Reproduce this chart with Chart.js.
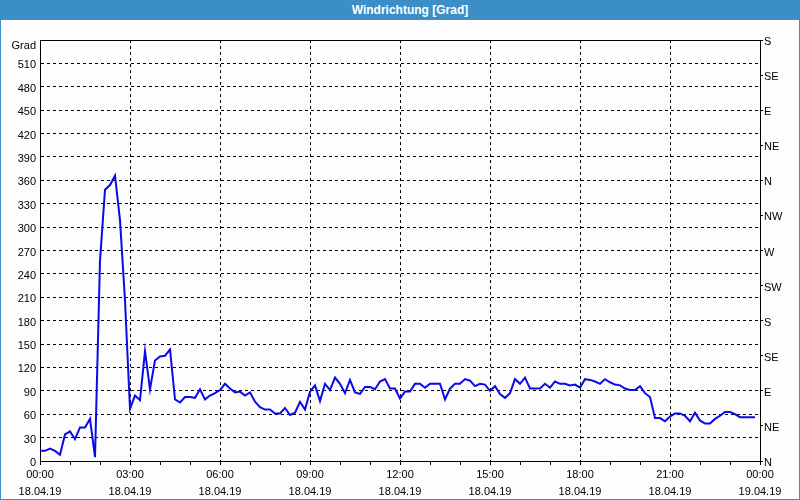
<!DOCTYPE html>
<html>
<head>
<meta charset="utf-8">
<script src="https://cdn.jsdelivr.net/npm/chart.js@4.4.1/dist/chart.umd.min.js"></script>
<style>
  html, body { margin: 0; padding: 0; background: #ffffff; }
  #wrap { position: relative; width: 800px; height: 500px; background: #fcfdfc; overflow: hidden; }
  #chart { position: absolute; left: 0; top: 0; width: 800px; height: 500px; }
  #title { position: absolute; left: 0; top: 0; width: 800px; height: 20px; background: #3c8fc6;
           color: #ffffff; font: bold 12px "Liberation Sans", Arial, sans-serif; line-height: 20px;
           text-align: center; box-sizing: border-box; padding-left: 20px; }
  #bl { position: absolute; left: 0; top: 20px; width: 1px; height: 480px; background: #3c8fc6; }
  #br { position: absolute; right: 0; top: 20px; width: 1px; height: 480px; background: #3c8fc6; }
  #bb { position: absolute; left: 0; bottom: 0; width: 800px; height: 1px; background: #3c8fc6; }
</style>
</head>
<body>
<div id="wrap">
  <canvas id="chart" width="800" height="500"></canvas>
  <div id="title">Windrichtung [Grad]</div>
  <div id="bl"></div><div id="br"></div><div id="bb"></div>
</div>
<script>
// Time of each reading, minutes after 18.04.19 00:00 (10-minute steps)
const minutes = Array.from({length: 144}, (_, i) => i * 10);
// Wind direction in degrees
const direction = [
  13, 13, 16, 13, 8, 34, 38, 28, 43, 43,
  54, 5, 257, 348, 354, 366, 309, 206, 67, 84,
  78, 141, 92, 129, 134, 135, 143, 79, 75, 82,
  82, 81, 92, 79, 84, 87, 91, 99, 93, 88,
  89, 84, 88, 76, 69, 66, 66, 61, 61, 68,
  59, 62, 76, 66, 89, 97, 77, 99, 91, 107,
  99, 87, 104, 88, 86, 95, 95, 92, 102, 105,
  93, 93, 80, 89, 89, 99, 99, 94, 99, 99,
  99, 79, 93, 99, 99, 105, 103, 96, 99, 98,
  90, 96, 86, 81, 87, 105, 99, 107, 93, 93,
  93, 99, 94, 102, 99, 99, 97, 98, 94, 105,
  104, 102, 99, 105, 101, 98, 97, 93, 91, 91,
  96, 87, 82, 55, 55, 51, 57, 61, 61, 58,
  51, 62, 52, 48, 48, 54, 58, 63, 63, 60,
  56, 56, 56, 56
];
// X tick labels (every 3 hours)
const timeLabels = ['00:00', '03:00', '06:00', '09:00', '12:00', '15:00', '18:00', '21:00', '00:00'];
const dateLabels = ['18.04.19', '18.04.19', '18.04.19', '18.04.19', '18.04.19', '18.04.19', '18.04.19', '18.04.19', '19.04.19'];
// Compass labels for the right axis (every 45°)
const compass = ['N', 'NE', 'E', 'SE', 'S', 'SW', 'W', 'NW'];
const yUnit = 'Grad';

const FONT = '"Liberation Sans Narrow", "Liberation Sans", Arial, sans-serif';

const gradLabel = {
  id: 'gradLabel',
  afterDraw(chart) {
    const ctx = chart.ctx;
    const a = chart.chartArea;
    ctx.save();
    ctx.font = '11px ' + FONT;
    ctx.fillStyle = '#000';
    ctx.textAlign = 'right';
    ctx.textBaseline = 'middle';
    ctx.fillText(yUnit, a.left - 4, a.top + 6);
    ctx.restore();
  }
};

new Chart(document.getElementById('chart'), {
  type: 'line',
  data: {
    labels: minutes,
    datasets: [{
      data: minutes.map((m, i) => ({x: m, y: direction[i]})),
      borderColor: '#0a0ae8',
      borderWidth: 2,
      pointRadius: 0,
      tension: 0,
      fill: false,
      yAxisID: 'y',
      xAxisID: 'x'
    }]
  },
  options: {
    responsive: false,
    animation: false,
    events: [],
    layout: { padding: 0 },
    plugins: { legend: { display: false }, tooltip: { enabled: false }, title: { display: false } },
    scales: {
      x: {
        type: 'linear',
        position: 'bottom',
        min: 0, max: 1440,
        afterFit(s) { s.height = 39; },
        ticks: {
          stepSize: 60, autoSkip: false, maxRotation: 0, minRotation: 0,
          color: '#000', padding: 2,
          font: { family: FONT, size: 11, lineHeight: 1.5 },
          callback(v) {
            if (v % 180 !== 0) return '';
            const k = v / 180;
            return [timeLabels[k], dateLabels[k]];
          }
        },
        grid: {
          drawTicks: true, tickLength: 4, tickColor: '#000', tickWidth: 1,
          color(c) { const v = c.tick && c.tick.value; return (v % 180 === 0 && v !== 0 && v !== 1440) ? '#000' : 'rgba(0,0,0,0)'; },
          lineWidth: 1
        },
        border: { display: true, color: '#000', width: 1, dash: [3, 3] }
      },
      x2: {
        type: 'linear',
        position: 'top',
        min: 0, max: 1440,
        afterFit(s) { s.height = 40; },
        ticks: { display: false },
        grid: { display: false, drawTicks: false },
        border: { display: true, color: '#000', width: 1 }
      },
      y: {
        type: 'linear',
        position: 'left',
        min: 0, max: 540,
        afterFit(s) { s.width = 40; },
        ticks: {
          stepSize: 30, autoSkip: false, color: '#000', padding: 4,
          font: { family: FONT, size: 11, lineHeight: '4px' },
          callback(v) { return v === 540 ? '' : ['', String(v)]; }
        },
        grid: {
          drawTicks: false,
          color(c) { const v = c.tick && c.tick.value; return (v === 0 || v === 540) ? 'rgba(0,0,0,0)' : '#000'; },
          lineWidth: 1
        },
        border: { display: true, color: '#000', width: 1, dash: [3, 3] }
      },
      y2: {
        type: 'linear',
        position: 'right',
        min: 0, max: 540,
        afterFit(s) { s.width = 40; },
        ticks: {
          stepSize: 45, autoSkip: false, color: '#000', padding: 1,
          font: { family: FONT, size: 11, lineHeight: '4px' },
          callback(v) { return ['', compass[Math.round(v / 45) % 8]]; }
        },
        grid: { drawOnChartArea: false, drawTicks: true, tickLength: 3, tickColor: '#000' },
        border: { display: true, color: '#000', width: 1 }
      }
    }
  },
  plugins: [gradLabel]
});
</script>
</body>
</html>
